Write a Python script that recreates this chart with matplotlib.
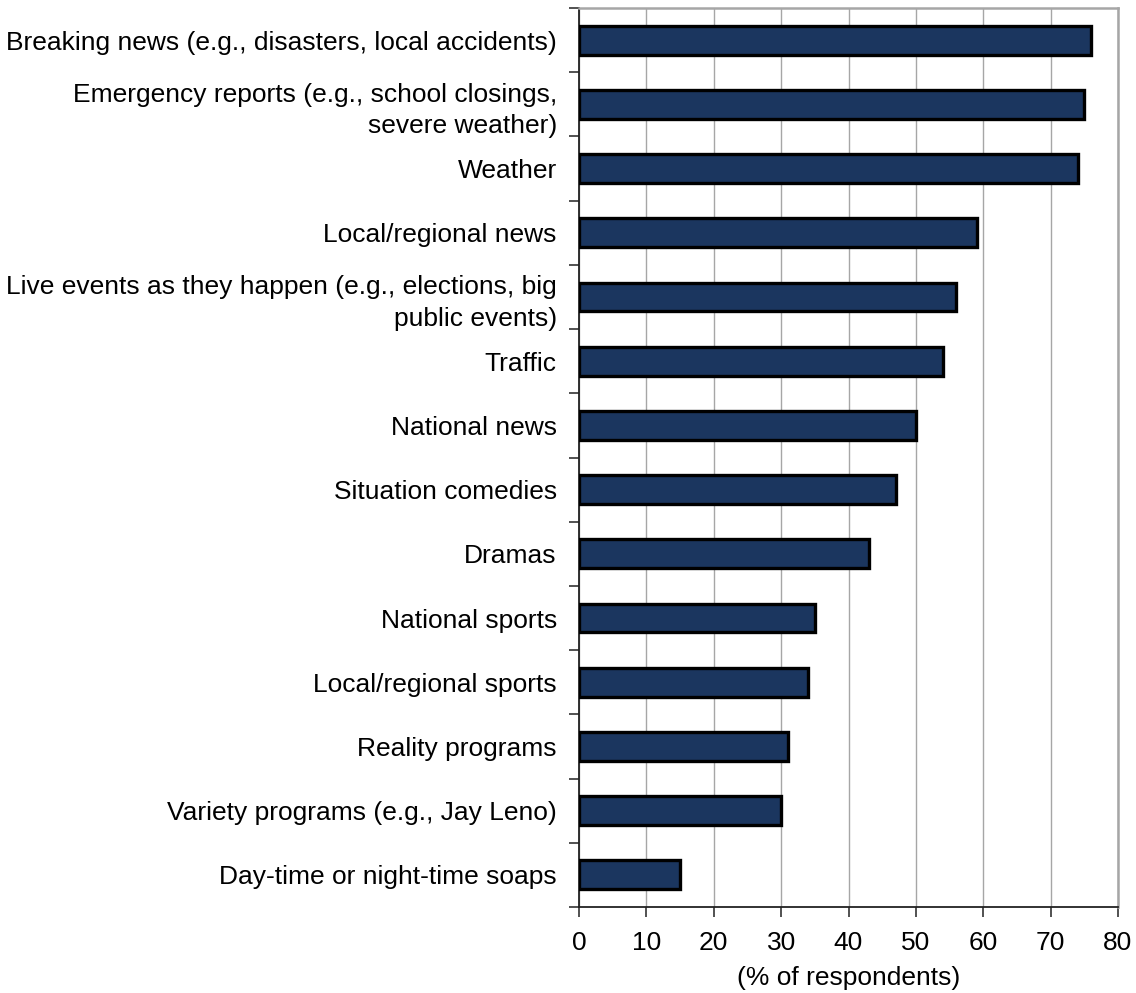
"""Horizontal bar chart: content viewers want on local TV (% of respondents)."""

import matplotlib.pyplot as plt
import numpy as np

plt.rcParams.update({"font.family": ["Liberation Sans", "DejaVu Sans"]})

categories = [
    "Breaking news (e.g., disasters, local accidents)",
    "Emergency reports (e.g., school closings,\nsevere weather)",
    "Weather",
    "Local/regional news",
    "Live events as they happen (e.g., elections, big\npublic events)",
    "Traffic",
    "National news",
    "Situation comedies",
    "Dramas",
    "National sports",
    "Local/regional sports",
    "Reality programs",
    "Variety programs (e.g., Jay Leno)",
    "Day-time or night-time soaps",
]
values = [76, 75, 74, 59, 56, 54, 50, 47, 43, 35, 34, 31, 30, 15]
xticks = list(range(0, 81, 10))

BAR_COLOR = "#1b365f"
GRID_COLOR = "#a6a6a6"
FS = 19

fig = plt.figure(figsize=(11.36, 9.93), dpi=100)
ax = fig.add_axes([579 / 1136, 1 - 907 / 993, (1118 - 579) / 1136, (907 - 8) / 993])

y = np.arange(len(categories))
ax.barh(y, values, height=0.45, color=BAR_COLOR, edgecolor="black",
        linewidth=2.4, zorder=3)

ax.set_xlim(0, 80)
ax.set_ylim(len(categories) - 0.5, -0.5)
ax.set_xticks(xticks)
ax.set_xticklabels([str(t) for t in xticks], fontsize=FS)
ax.set_xlabel("(% of respondents)", fontsize=FS, labelpad=8)

# category labels sit between boundary ticks
ax.set_yticks(y)
ax.set_yticklabels(categories, fontsize=FS, ha="right", linespacing=1.4)
ax.tick_params(axis="y", length=0, pad=16)
ax.set_yticks(np.arange(len(categories) + 1) - 0.5, minor=True)
ax.tick_params(axis="y", which="minor", length=7, width=1.2, color="#333333")
ax.tick_params(axis="x", length=7, width=1.2, color="#333333", pad=10)

ax.grid(axis="x", color=GRID_COLOR, linewidth=1.0, zorder=0)
ax.set_axisbelow(True)

for side in ("left", "bottom"):
    ax.spines[side].set_color("#222222")
    ax.spines[side].set_linewidth(1.3)
for side in ("top", "right"):
    ax.spines[side].set_color(GRID_COLOR)
    ax.spines[side].set_linewidth(1.8)

fig.savefig("out.png", dpi=100)
